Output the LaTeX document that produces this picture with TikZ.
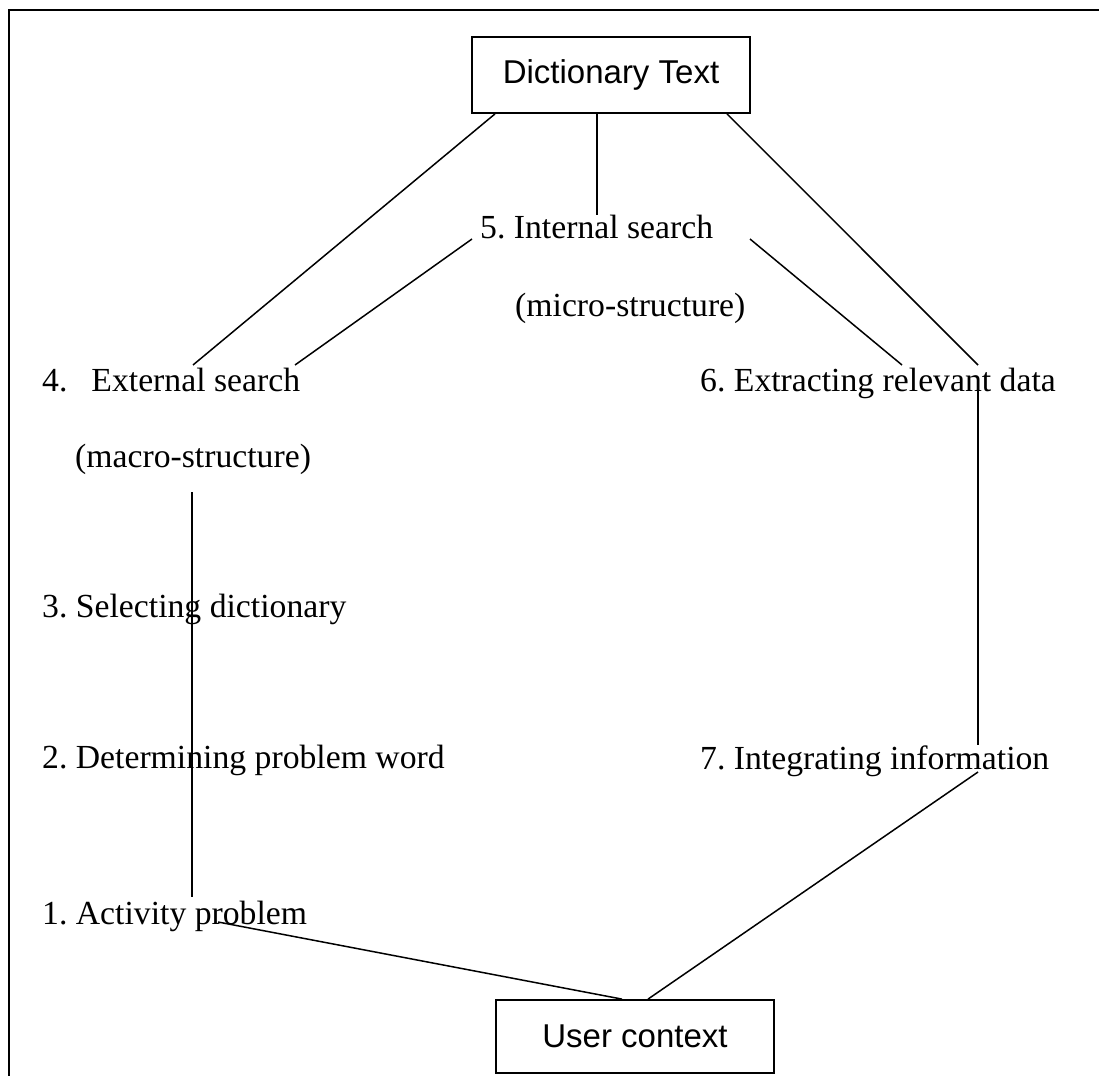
\documentclass[tikz,border=0pt]{standalone}
\usepackage{fontspec}
\setmainfont{Liberation Serif}
\newfontfamily\boxfont{Liberation Sans}
\usetikzlibrary{calc}
\frenchspacing

\tikzset{
  stagebox/.style={draw, line width=1.8pt, inner sep=0pt, minimum width=278pt,
    font=\boxfont\fontsize{33}{38}\selectfont},
  stage/.style={inner sep=0pt, anchor=base west, font=\fontsize{33.7}{40}\selectfont},
  link/.style={line width=1.5pt, line cap=butt},
  frame/.style={line width=2.8pt}
}

\begin{document}
\begin{tikzpicture}[x=1pt, y=-1pt]
  \useasboundingbox (0,0) rectangle (1099,1075);
  \draw[frame] (9,1090) -- (9,10) -- (1110,10);

  % the two end points of the search process
  \node[stagebox, minimum height=76pt] (dict) at (611,75) {Dictionary Text};
  \node[stagebox, minimum height=73pt] (user) at (635,1036.5) {User context};

  % process stages
  \node[stage] (s5)  at (480,238) {5. Internal search};
  \node[stage] (s5b) at (515,316) {(micro-structure)};
  \node[stage] (s4)  at (42,391)  {4.\hspace{24pt}External search};
  \node[stage] (s4b) at (75,467)  {(macro-structure)};
  \node[stage] (s6)  at (700,391) {6. Extracting relevant data};
  \node[stage] (s3)  at (42,617)  {3. Selecting dictionary};
  \node[stage] (s2)  at (42,768)  {2. Determining problem word};
  \node[stage] (s7)  at (700,769) {7. Integrating information};
  \node[stage] (s1)  at (42,924)  {1. Activity problem};

  % connections from the dictionary text
  \draw[link] ($(dict.south)+(-116,0)$) -- ($(s4.base west)+(151,-26)$);
  \draw[link] ($(dict.south)+(-14,0)$)  -- ($(s5.base west)+(117,-23)$);
  \draw[link] ($(dict.south)+(116,0)$)  -- ($(s6.base west)+(278,-26)$);

  % internal search to its neighbours
  \draw[link] ($(s5.base west)+(-8,1)$)  -- ($(s4.base west)+(253,-26)$);
  \draw[link] ($(s5.base west)+(270,1)$) -- ($(s6.base west)+(202,-26)$);

  % right-hand branch down to the user context
  \draw[link] ($(s6.base west)+(278,-8)$) -- ($(s7.base west)+(278,-24)$);
  \draw[link] ($(s7.base west)+(278,3)$)  -- ($(user.north)+(13,0)$);

  % left-hand branch down to the user context
  \draw[link] ($(s4b.base west)+(117,25)$) -- ($(s1.base west)+(150,-27)$);
  \draw[link] ($(s1.base west)+(176,-2)$)  -- ($(user.north)+(-13,0)$);
\end{tikzpicture}
\end{document}
